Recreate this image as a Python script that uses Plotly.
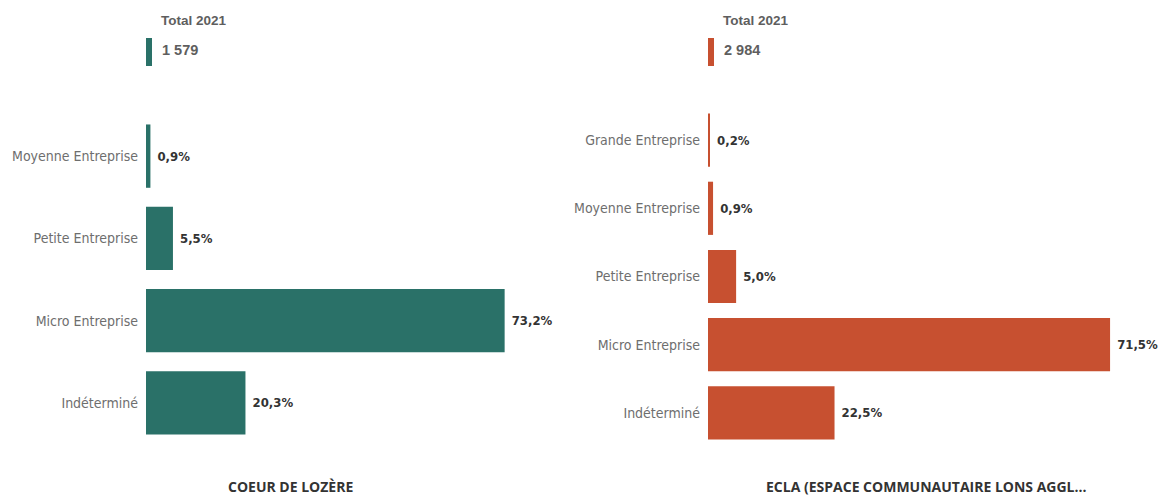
import plotly.graph_objects as go

# ---- data ----
left_title = "COEUR DE LOZÈRE"
left_categories = ["Moyenne Entreprise", "Petite Entreprise", "Micro Entreprise", "Indéterminé"]
left_values = [0.9, 5.5, 73.2, 20.3]
left_total = 1579

right_title = "ECLA (ESPACE COMMUNAUTAIRE LONS AGGL..."
right_categories = ["Grande Entreprise", "Moyenne Entreprise", "Petite Entreprise", "Micro Entreprise", "Indéterminé"]
right_values = [0.2, 0.9, 5.0, 71.5, 22.5]
right_total = 2984

total_label = "Total 2021"

# ---- style ----
W, H = 1160, 495
TEAL = "#2a7168"
ORANGE = "#c75030"
LABEL_FONT = "DejaVu Sans Condensed, Liberation Sans Narrow, Roboto, sans-serif"


def fmt_pct(v):
    return "\u00a0" + f"{v:.1f}".replace(".", ",") + "%"


def fmt_total(v):
    return f"{v:,}".replace(",", " ")


fig = go.Figure()

panels = [
    dict(cats=left_categories, vals=left_values, color=TEAL, total=left_total, title=left_title,
         xdom=(146 / W, 560 / W), ydom=(1 - 444 / H, 1 - 115 / H), xmax=84.5, gap=0.23,
         xa="x", ya="y", title_x=290),
    dict(cats=right_categories, vals=right_values, color=ORANGE, total=right_total, title=right_title,
         xdom=(708 / W, 1150 / W), ydom=(1 - 447 / H, 1 - 106 / H), xmax=78.6, gap=0.22,
         xa="x2", ya="y2", title_x=926),
]

layout_axes = {}
annotations = []
shapes = []
for i, p in enumerate(panels):
    fig.add_trace(go.Bar(
        x=p["vals"], y=p["cats"], orientation="h",
        marker=dict(color=p["color"], line=dict(width=0)),
        text=[f"<b>{fmt_pct(v)}</b>" for v in p["vals"]],
        textposition="outside", cliponaxis=False,
        textfont=dict(family=LABEL_FONT, size=13, color="#333333"),
        xaxis=p["xa"], yaxis=p["ya"], showlegend=False, hoverinfo="skip",
        width=1 - p["gap"],
    ))
    sfx = "" if i == 0 else "2"
    layout_axes["xaxis" + sfx] = dict(domain=list(p["xdom"]), range=[0, p["xmax"]], visible=False,
                                      anchor=p["ya"], fixedrange=True)
    layout_axes["yaxis" + sfx] = dict(domain=list(p["ydom"]), anchor=p["xa"],
                                      categoryorder="array", categoryarray=p["cats"][::-1],
                                      range=[-0.5, len(p["cats"]) - 0.5],
                                      showgrid=False, zeroline=False, showline=False, ticks="",
                                      ticklabelstandoff=7, fixedrange=True,
                                      tickfont=dict(family=LABEL_FONT, size=14, color="#6e6e6e"))
    x0 = p["xdom"][0]
    # total indicator
    shapes.append(dict(type="rect", xref="paper", yref="paper",
                       x0=x0, x1=x0 + 6 / W, y0=1 - 66 / H, y1=1 - 38 / H,
                       fillcolor=p["color"], line=dict(width=0)))
    annotations.append(dict(text=f"<b>{total_label}</b>", xref="paper", yref="paper",
                            x=x0 + 13 / W, y=1 - 20 / H, xanchor="left", yanchor="middle",
                            showarrow=False, font=dict(family="Liberation Sans, Arial", size=13.5, color="#5e5e5e")))
    annotations.append(dict(text=f"<b>{fmt_total(p['total'])}</b>", xref="paper", yref="paper",
                            x=x0 + 14 / W, y=1 - 50 / H, xanchor="left", yanchor="middle",
                            showarrow=False, font=dict(family="Liberation Sans, Arial", size=14.5, color="#5e5e5e")))
    annotations.append(dict(text=f"<b>{p['title']}</b>", xref="paper", yref="paper",
                            x=p["title_x"] / W, y=1 - 486 / H, xanchor="center", yanchor="middle",
                            showarrow=False, font=dict(family="Open Sans, sans-serif", size=14, color="#333333")))

fig.update_layout(
    width=W, height=H,
    margin=dict(l=0, r=0, t=0, b=0),
    paper_bgcolor="white", plot_bgcolor="white",
    annotations=annotations, shapes=shapes,
    hovermode=False,
    **layout_axes,
)

fig.write_html("out.html", config={"displayModeBar": False},
               post_script="document.body.style.margin='0';document.body.style.overflow='hidden';")
